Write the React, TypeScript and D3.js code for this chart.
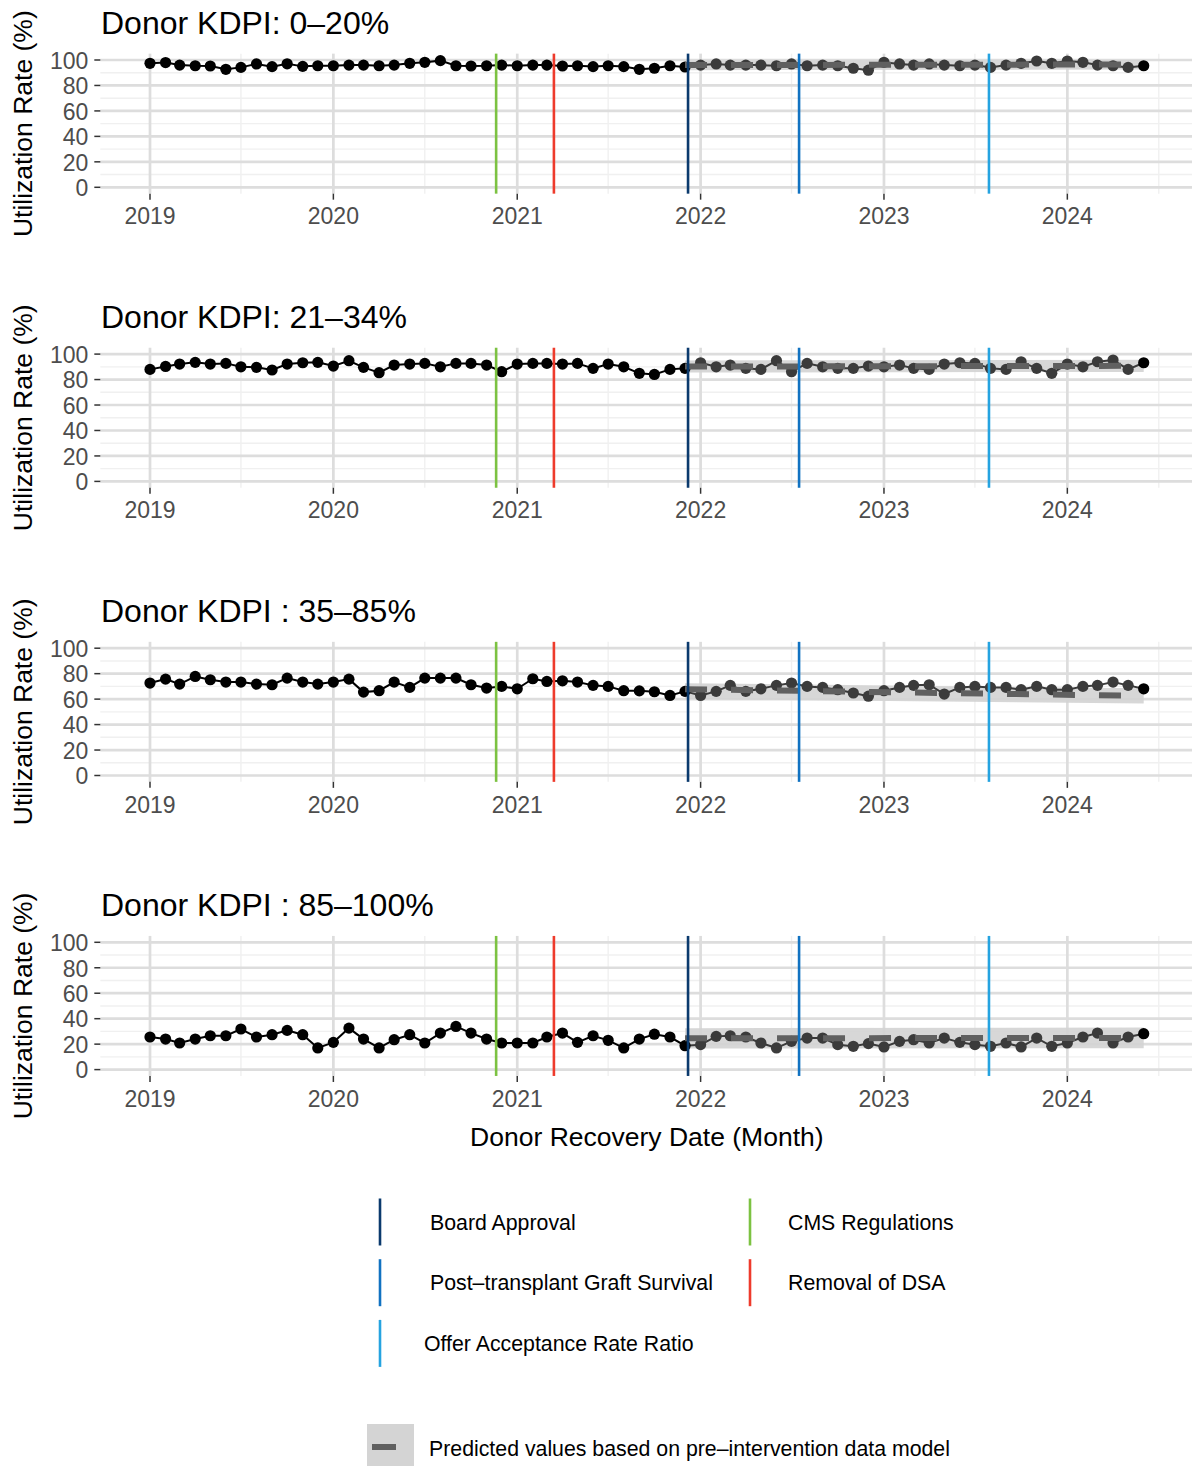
import React from 'react';
import * as d3 from 'd3';

const W = 1192;
const H = 1466;

// monthly categories Jan 2019 .. Jun 2024 (66 months)
const months: Date[] = d3.timeMonth.range(new Date(2019, 0, 1), new Date(2024, 6, 1));

const kdpi0to20 = [
  97.4, 98, 96, 95.5, 95.3, 92.7, 94.2, 96.9, 94.8, 97, 95, 95.5,
  95.5, 96, 96, 95.5, 96, 97.4, 98.2, 99.5, 95.5, 95.3, 95.5, 96,
  95.5, 96, 96, 95.3, 95.5, 94.8, 95.5, 94.8, 92.7, 93.5, 95.5, 94.5,
  96, 96.9, 96, 96, 96, 95.5, 96.9, 95.5, 96, 95.5, 93.5, 92,
  98.2, 96.9, 96, 96.9, 96, 95.5, 96, 94.2, 96, 97.4, 99.2, 97.4,
  99.2, 98.2, 96, 95.5, 94.2, 95.5,
];
const kdpi21to34 = [
  88, 90.3, 92.2, 93.5, 92.2, 92.7, 90, 89.6, 87.5, 92.2, 93.2, 93.5,
  90.6, 94.8, 89.6, 85.4, 91.4, 92.2, 92.7, 90, 92.7, 92.7, 91.4, 86.2,
  92.2, 92.7, 92.7, 92.2, 92.7, 88.8, 92.2, 90, 84.9, 84, 88, 88.8,
  93.2, 90, 91.4, 88.8, 88, 94.8, 86.2, 92.7, 90, 88.8, 88.8, 90.6,
  90, 91.4, 88.8, 88, 92.2, 93.2, 92.7, 88.8, 88, 94, 88.8, 84.9,
  92.2, 90, 94, 95.3, 88, 93.2,
];
const kdpi35to85 = [
  72.6, 75.7, 71.8, 77.8, 75.2, 73.4, 73.4, 71.8, 71.3, 76.5, 73.4, 71.8,
  73.4, 75.7, 65.5, 66.6, 73.4, 69.2, 76.5, 76.5, 76.5, 71.3, 68.7, 70,
  68.1, 76, 73.9, 74.4, 73.4, 70.8, 70, 66.6, 66.5, 65.8, 62.9, 66.1,
  62.9, 66.1, 70.8, 66.1, 68.1, 70.8, 72.6, 70, 69.2, 67.4, 64.8, 62.3,
  66.6, 69.2, 70.8, 71.3, 64, 69.2, 70, 69.2, 69.2, 67.4, 70, 67.4,
  67.4, 70, 70.8, 73.4, 70.8, 68.1,
];
const kdpi85to100 = [
  25.6, 24, 20.9, 24, 26.6, 26.6, 31.9, 25.6, 27.4, 30.8, 27.4, 17,
  21.4, 32.6, 24, 17, 23.5, 27.4, 20.9, 28.7, 33.9, 28.7, 24, 20.9,
  20.9, 20.9, 25.6, 28.7, 21.4, 26.6, 23, 17, 24, 27.8, 25.6, 18.8,
  19.6, 26.1, 26.6, 25.6, 20.9, 17, 22.2, 24.8, 24.8, 19.6, 18.3, 20.4,
  17.8, 22.2, 23.5, 20.9, 24.8, 21.4, 19.6, 18.3, 20.9, 17.8, 24.8, 18.3,
  20.9, 25.6, 28.7, 20.9, 25.6, 28.2,
];

const panelTitles = [
  'Donor KDPI: 0–20%',
  'Donor KDPI: 21–34%',
  'Donor KDPI : 35–85%',
  'Donor KDPI : 85–100%',
];
const panelSeries = [kdpi0to20, kdpi21to34, kdpi35to85, kdpi85to100];

// predicted (pre-intervention model) at start / end of the prediction window
const predDates = [new Date(2021, 11, 1), new Date(2024, 5, 1)];
const pred0to20 = { mean: [96, 96.5], low: [92, 92.5], high: [99.5, 100] };
const pred21to34 = { mean: [90.2, 90.8], low: [85.5, 86], high: [95, 95.5] };
const pred35to85 = { mean: [67.8, 62.5], low: [60, 56.5], high: [72.5, 68.5] };
const pred85to100 = { mean: [24.6, 24.9], low: [16.5, 16.8], high: [32.5, 33] };
const panelPred = [pred0to20, pred21to34, pred35to85, pred85to100];

const yMajor = [0, 20, 40, 60, 80, 100];
const yMinor = [10, 30, 50, 70, 90];
const xYears = [2019, 2020, 2021, 2022, 2023, 2024];
const xMinorDates = [2019, 2020, 2021, 2022, 2023, 2024].map((y) => new Date(y, 6, 1));

const interventionNames = [
  'Board Approval',
  'Post–transplant Graft Survival',
  'Offer Acceptance Rate Ratio',
  'CMS Regulations',
  'Removal of DSA',
];
const interventionDates = [
  new Date(2021, 11, 7),
  new Date(2022, 6, 16),
  new Date(2023, 6, 29),
  new Date(2020, 10, 20),
  new Date(2021, 2, 15),
];
const interventionColors = ['#0b3a6d', '#1172c1', '#25a3e0', '#7cc242', '#ee3b2c'];

const FONT = "'Liberation Sans', Arial, Helvetica, sans-serif";

export default function App() {
  const x = d3
    .scaleTime()
    .domain([months[0], months[months.length - 1]])
    .range([150, 1143.7]);
  const span = 1143.7 - 150;
  const left = 150 - span * 0.05;
  const right = 1143.7 + span * 0.05;

  const postStart = new Date(2022, 0, 1);
  const lastIdx = months.length - 1;

  const panels = panelSeries.map((series, i) => {
    const top100 = 60 + 294.1 * i;
    const y = d3.scaleLinear().domain([0, 100]).range([top100 + 127.3, top100]);
    const pTop = y(105);
    const pBot = y(-5);
    const pred = panelPred[i];
    const predRows = predDates.map((d, k) => ({
      d,
      mean: pred.mean[k],
      low: pred.low[k],
      high: pred.high[k],
    }));
    const area = d3
      .area<any>()
      .x((r) => x(r.d))
      .y0((r) => y(r.low))
      .y1((r) => y(r.high));
    const predLine = d3
      .line<any>()
      .x((r) => x(r.d))
      .y((r) => y(r.mean));
    const pts = months.map((d, k) => ({ d, v: series[k], k }));
    const preLine = d3
      .line<any>()
      .x((p) => x(p.d))
      .y((p) => y(p.v));
    const preIdx = months.findIndex((d) => d >= postStart);
    const prePts = pts.slice(0, preIdx);
    const postPts = pts.slice(preIdx - 1);

    return (
      <g key={i}>
        {/* grid */}
        {yMinor.map((v) => (
          <line key={'ym' + v} x1={left} x2={right} y1={y(v)} y2={y(v)} stroke="#f0f0f0" strokeWidth={1.4} />
        ))}
        {xMinorDates.map((d, k) => (
          <line key={'xm' + k} x1={x(d)} x2={x(d)} y1={pTop} y2={pBot} stroke="#f0f0f0" strokeWidth={1.4} />
        ))}
        {yMajor.map((v) => (
          <line key={'yM' + v} x1={left} x2={right} y1={y(v)} y2={y(v)} stroke="#dddddd" strokeWidth={2.7} />
        ))}
        {xYears.map((yr) => (
          <line
            key={'xM' + yr}
            x1={x(new Date(yr, 0, 1))}
            x2={x(new Date(yr, 0, 1))}
            y1={pTop}
            y2={pBot}
            stroke="#dddddd"
            strokeWidth={2.7}
          />
        ))}
        {/* ticks */}
        {yMajor.map((v) => (
          <g key={'yt' + v}>
            <line x1={left - 6} x2={left} y1={y(v)} y2={y(v)} stroke="#333" strokeWidth={1.5} />
            <text
              x={left - 12}
              y={y(v) + 8.8}
              textAnchor="end"
              fontSize={23}
              fill="#4d4d4d"
              fontFamily={FONT}
            >
              {v}
            </text>
          </g>
        ))}
        {xYears.map((yr) => {
          const xx = x(new Date(yr, 0, 1));
          return (
            <g key={'xt' + yr}>
              <line x1={xx} x2={xx} y1={pBot} y2={pBot + 6} stroke="#333" strokeWidth={1.5} />
              <text x={xx} y={y(0) + 37} textAnchor="middle" fontSize={23} fill="#4d4d4d" fontFamily={FONT}>
                {yr}
              </text>
            </g>
          );
        })}
        {/* titles */}
        <text x={101} y={top100 - 26} fontSize={32} fill="#000" fontFamily={FONT}>
          {panelTitles[i]}
        </text>
        <text
          transform={`translate(32,${(pTop + pBot) / 2}) rotate(-90)`}
          textAnchor="middle"
          fontSize={26.5}
          fill="#000"
          fontFamily={FONT}
        >
          Utilization Rate (%)
        </text>
        {/* ribbon */}
        <path d={area(predRows) || ''} fill="#d3d3d3" fillOpacity={0.9} />
        {/* observed line */}
        <path d={preLine(prePts) || ''} fill="none" stroke="#000" strokeWidth={2} />
        <path d={preLine(postPts) || ''} fill="none" stroke="#3a3a3a" strokeWidth={2} />
        {pts.map((p) => (
          <circle
            key={'p' + p.k}
            cx={x(p.d)}
            cy={y(p.v)}
            r={5.6}
            fill={p.d >= postStart && p.k !== lastIdx ? '#3b3b3b' : '#000'}
          />
        ))}
        {/* predicted line */}
        <path
          d={predLine(predRows) || ''}
          fill="none"
          stroke="#606060"
          strokeWidth={6}
          strokeDasharray="22 24"
        />
        {/* intervention lines */}
        {interventionDates.map((d, k) => (
          <line
            key={'iv' + k}
            x1={x(d)}
            x2={x(d)}
            y1={pTop}
            y2={pBot}
            stroke={interventionColors[k]}
            strokeWidth={2.6}
          />
        ))}
      </g>
    );
  });

  const legendPos = [
    { lx: 380, tx: 430, row: 0 },
    { lx: 380, tx: 430, row: 1 },
    { lx: 380, tx: 424, row: 2 },
    { lx: 750, tx: 788, row: 0 },
    { lx: 750, tx: 788, row: 1 },
  ];

  return (
    <svg
      width={W}
      height={H}
      style={{ position: 'absolute', left: 0, top: 0, background: '#fff' }}
      xmlns="http://www.w3.org/2000/svg"
    >
      <rect x={0} y={0} width={W} height={H} fill="#fff" />
      {panels}
      <text x={(left + right) / 2} y={1146} textAnchor="middle" fontSize={26.5} fill="#000" fontFamily={FONT}>
        Donor Recovery Date (Month)
      </text>
      {interventionNames.map((name, k) => {
        const p = legendPos[k];
        const cy = 1222 + p.row * 60.7;
        return (
          <g key={'lg' + k}>
            <line
              x1={p.lx}
              x2={p.lx}
              y1={cy - 23.5}
              y2={cy + 23.5}
              stroke={interventionColors[k]}
              strokeWidth={2.6}
            />
            <text x={p.tx} y={cy + 7.5} fontSize={21.3} fill="#000" fontFamily={FONT}>
              {name}
            </text>
          </g>
        );
      })}
      <rect x={367} y={1424} width={47} height={47} fill="#d4d4d4" />
      <line x1={372} x2={396} y1={1447} y2={1447} stroke="#606060" strokeWidth={6} />
      <text x={429} y={1455.5} fontSize={21.3} fill="#000" fontFamily={FONT}>
        Predicted values based on pre–intervention data model
      </text>
    </svg>
  );
}
